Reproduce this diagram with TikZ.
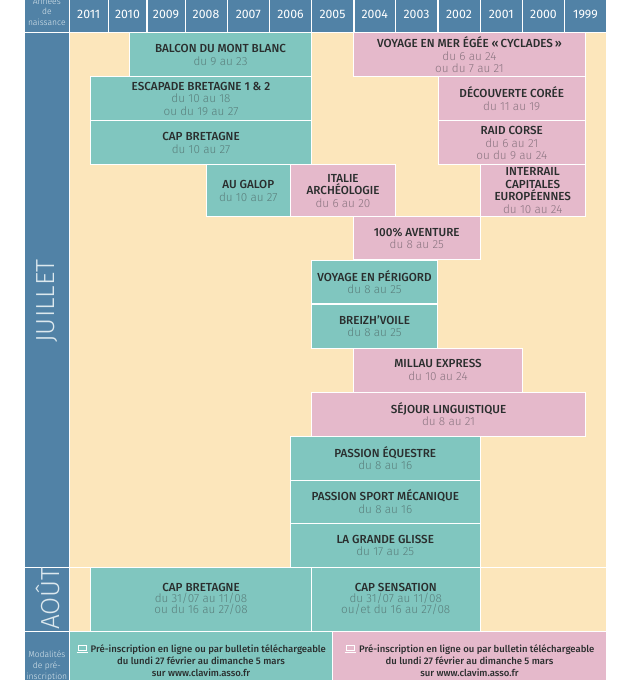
\documentclass[tikz,border=0pt]{standalone}
\usepackage{fontspec}
\setmainfont{Fira Sans}
\newfontfamily\lightf{Fira Sans Light}
\newfontfamily\medf{Fira Sans Medium}
\definecolor{tealb}{HTML}{80C6BF}
\definecolor{pinkb}{HTML}{E5B9CB}
\definecolor{creamb}{HTML}{FCE6BB}
\definecolor{blueb}{HTML}{5182A6}
\definecolor{darkt}{HTML}{2A2E2E}
\definecolor{subteal}{HTML}{5A7F7C}
\definecolor{subpink}{HTML}{8A7480}
\definecolor{paleb}{HTML}{DCE8EE}
\tikzset{
  x=0.75pt,y=-0.75pt,
  cell/.style={draw=white,line width=0.75pt,inner sep=0pt,outer sep=0pt,align=center,text=darkt,font=\fontsize{8.4}{9.4}\selectfont},
  tealcell/.style={cell,fill=tealb},
  pinkcell/.style={cell,fill=pinkb},
  bluecell/.style={cell,fill=blueb,text=white},
  yearcell/.style={bluecell,font=\fontsize{9.2}{10}\selectfont},
  monthlabel/.style={inner sep=0pt,text=paleb,rotate=90,font=\lightf\fontsize{19.6}{24}\selectfont},
  smalllabel/.style={inner sep=0pt,align=center,text=paleb,font=\lightf\fontsize{6.4}{7.9}\selectfont},
  footertext/.style={inner sep=0pt,align=center,text=darkt,font=\medf\fontsize{7.15}{9.1}\selectfont},
  laptopicon/.style={draw=white,line width=0.6pt}
}
\newcommand{\ttl}[1]{{\medf\fontsize{8.75}{9.4}\selectfont\raisebox{-0.5pt}{#1}}}
\newcommand{\subt}[2]{{\lightf\fontsize{8.8}{9.4}\selectfont\color{#1}\raisebox{-0.5pt}{#2}}}
\newcommand{\boxcell}[7]{%
  \pgfmathsetlengthmacro{\bw}{(#5-#3+1)*0.75pt}%
  \pgfmathsetlengthmacro{\bh}{(#6-#4+1)*0.75pt}%
  \node[#2,minimum width=\bw,minimum height=\bh] (#1) at ({(#3+#5)/2},{(#4+#6)/2}) {#7};%
}
\newcommand{\yr}[3]{\boxcell{y#1}{yearcell}{#2}{-4}{#3}{32.5}{\raisebox{-1.6pt}{#1}}}
\begin{document}
\begin{tikzpicture}
\clip (0,0) rectangle (636,680);
% background
\boxcell{bg}{cell,fill=creamb}{69.5}{33.5}{606}{567}{}
\boxcell{bgaug}{cell,fill=creamb}{69.5}{568}{606}{630.5}{}
% left column
\boxcell{hdr}{bluecell}{25}{-6}{68.5}{32.5}{}
\boxcell{juillet}{bluecell}{25}{33.5}{68.5}{567}{}
\boxcell{aout}{bluecell}{25}{568}{68.5}{630.5}{}
\boxcell{modal}{bluecell}{25}{632}{68.5}{690}{}
\node[smalllabel] (hdrtext) at (46.8,11.5) {Années\\de\\naissance};
\node[monthlabel] (jtext) at (47.5,301) {JUILLET};
\node[monthlabel] (atext) at (47.5,598.5) {AOÛT};
\node[smalllabel] (modtext) at (46.8,666) {Modalités\\de pré-\\inscription};
% years
\yr{2011}{69.5}{108}
\yr{2010}{109}{146}
\yr{2009}{147.5}{184.5}
\yr{2008}{185.5}{226.5}
\yr{2007}{227.5}{269}
\yr{2006}{270}{311}
\yr{2005}{312}{353}
\yr{2004}{354.5}{395}
\yr{2003}{396}{437}
\yr{2002}{438.5}{479.5}
\yr{2001}{480.5}{522}
\yr{2000}{523}{564}
\yr{1999}{565}{606}
% teal
\boxcell{balcon}{tealcell}{130}{33.5}{311}{76.5}{\ttl{BALCON DU MONT BLANC}\\\subt{subteal}{du 9 au 23}}
\boxcell{escapade}{tealcell}{91}{77.5}{311}{120}{\ttl{ESCAPADE BRETAGNE 1 \& 2}\\\subt{subteal}{du 10 au 18}\\\subt{subteal}{ou du 19 au 27}}
\boxcell{capbret}{tealcell}{91}{121.5}{311}{164.5}{\ttl{CAP BRETAGNE}\\\subt{subteal}{du 10 au 27}}
\boxcell{galop}{tealcell}{206.5}{165.5}{290}{216}{\ttl{AU GALOP}\\\subt{subteal}{du 10 au 27}}
\boxcell{perigord}{tealcell}{312}{261}{437}{303.5}{\ttl{VOYAGE EN PÉRIGORD}\\\subt{subteal}{du 8 au 25}}
\boxcell{breizh}{tealcell}{312}{304.5}{437}{347.5}{\ttl{BREIZH’VOILE}\\\subt{subteal}{du 8 au 25}}
\boxcell{equestre}{tealcell}{291}{436.5}{479.5}{479.5}{\ttl{PASSION ÉQUESTRE}\\\subt{subteal}{du 8 au 16}}
\boxcell{meca}{tealcell}{291}{480.5}{479.5}{523}{\ttl{PASSION SPORT MÉCANIQUE}\\\subt{subteal}{du 8 au 16}}
\boxcell{glisse}{tealcell}{291}{524}{479.5}{566.5}{\ttl{LA GRANDE GLISSE}\\\subt{subteal}{du 17 au 25}}
\boxcell{capaug}{tealcell}{91}{568}{311}{630.5}{\ttl{CAP BRETAGNE}\\[-1pt]\subt{subteal}{du 31/07 au 11/08}\\[-1pt]\subt{subteal}{ou du 16 au 27/08}}
\boxcell{capsens}{tealcell}{312}{568}{479.5}{630.5}{\ttl{CAP SENSATION}\\[-1pt]\subt{subteal}{du 31/07 au 11/08}\\[-1pt]\subt{subteal}{ou/et du 16 au 27/08}}
% pink
\boxcell{egee}{pinkcell}{354}{33.5}{585}{76.5}{\ttl{VOYAGE EN MER ÉGÉE «\,CYCLADES\,»}\\\subt{subpink}{du 6 au 24}\\\subt{subpink}{ou du 7 au 21}}
\boxcell{coree}{pinkcell}{438.5}{77.5}{585}{120}{\ttl{DÉCOUVERTE CORÉE}\\\subt{subpink}{du 11 au 19}}
\boxcell{raid}{pinkcell}{438.5}{121.5}{585}{164.5}{\ttl{RAID CORSE}\\\subt{subpink}{du 6 au 21}\\\subt{subpink}{ou du 9 au 24}}
\boxcell{italie}{pinkcell}{291}{165.5}{395}{216}{\ttl{ITALIE}\\\ttl{ARCHÉOLOGIE}\\\subt{subpink}{du 6 au 20}}
\boxcell{interrail}{pinkcell}{480.5}{165.5}{585}{216}{\ttl{INTERRAIL}\\\ttl{CAPITALES}\\\ttl{EUROPÉENNES}\\\subt{subpink}{du 10 au 24}}
\boxcell{aventure}{pinkcell}{354}{217}{479.5}{259.5}{\ttl{100\% AVENTURE}\\\subt{subpink}{du 8 au 25}}
\boxcell{millau}{pinkcell}{354}{348.5}{522}{391.5}{\ttl{MILLAU EXPRESS}\\\subt{subpink}{du 10 au 24}}
\boxcell{sejour}{pinkcell}{312}{392.5}{585}{435.5}{\ttl{SÉJOUR LINGUISTIQUE}\\\subt{subpink}{du 8 au 21}}
% footer
\boxcell{footl}{tealcell}{69.5}{632}{332}{690}{}
\boxcell{footr}{pinkcell}{333}{632}{606}{690}{}
\node[footertext] (ftl) at (201,660.5) {\hspace*{11pt}Pré-inscription en ligne ou par bulletin téléchargeable\\du lundi 27 février au dimanche 5 mars\\sur www.clavim.asso.fr};
\node[footertext] (ftr) at (469.5,660.5) {\hspace*{11pt}Pré-inscription en ligne ou par bulletin téléchargeable\\du lundi 27 février au dimanche 5 mars\\sur www.clavim.asso.fr};
\foreach \dx in {0,268}{
  \draw[laptopicon] (78+\dx,645.5) rectangle (86+\dx,650.5);
  \draw[laptopicon] (76.5+\dx,652) -- (87.5+\dx,652);
}
\end{tikzpicture}
\end{document}
